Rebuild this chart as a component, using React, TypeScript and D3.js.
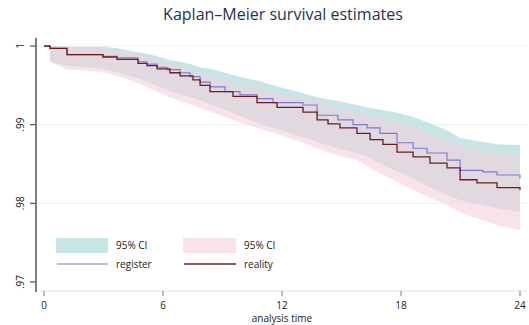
import * as d3 from 'd3';
import React from 'react';

// Kaplan-Meier estimates (time in months)
const regTimes = [0, 0.3, 1.16, 2.97, 3.68, 4.74, 5.19, 5.7, 6.2, 6.86, 7.36, 7.87, 8.37, 9.13, 9.88, 10.74, 11.55, 13.06, 13.77, 14.82, 15.58, 16.29, 16.94, 17.8, 18.61, 19.31, 20.32, 20.98, 22.13, 22.84, 24];
const regSurv = [1, .9997, .9989, .9987, .9985, .998, .9977, .9973, .997, .9966, .9961, .9954, .9948, .9942, .9938, .9933, .9928, .9925, .9912, .9906, .99, .9896, .9889, .9877, .987, .9864, .9855, .9842, .984, .9836, .9832];
const regUpper = [1, 1, .9999, .9999, .9997, .9992, .999, .9987, .9983, .998, .9977, .9973, .9971, .9966, .9961, .9956, .995, .994, .9935, .993, .9926, .9922, .9919, .9915, .991, .9903, .9893, .9883, .9878, .9875, .9874];
const regLower = [1, .998, .9975, .9971, .9967, .9959, .9954, .9949, .9944, .9939, .9935, .9931, .9926, .9919, .9911, .9902, .9896, .9884, .9878, .987, .9865, .986, .9851, .984, .9832, .9822, .9811, .9804, .9798, .9794, .9789];

const realTimes = [0, 0.3, 1.16, 2.97, 3.68, 4.74, 5.19, 5.7, 6.35, 6.86, 7.51, 7.87, 8.37, 9.53, 10.74, 11.75, 13.06, 13.77, 14.32, 14.92, 15.78, 16.44, 17.09, 17.8, 18.61, 19.46, 20.32, 20.98, 21.83, 22.84, 24];
const realSurv = [1, .9997, .9989, .9986, .9983, .9978, .9975, .9971, .9966, .9962, .9957, .995, .9942, .9936, .9928, .9922, .9916, .9906, .9901, .9896, .9889, .9881, .9875, .9865, .9859, .9851, .9845, .983, .9826, .982, .9817];
const realUpper = [1, 1, .9999, .9997, .9995, .999, .9986, .9982, .9977, .9973, .9968, .9966, .9962, .9954, .9947, .994, .9934, .9929, .9925, .9921, .9917, .9912, .9908, .9905, .99, .9888, .9881, .9874, .987, .9865, .9861];
const realLower = [1, .998, .997, .9967, .9962, .9953, .9948, .9942, .9935, .993, .9925, .9921, .9917, .9906, .9896, .9888, .9877, .987, .9865, .986, .9855, .9845, .9836, .9827, .9817, .9807, .9798, .9789, .9781, .9772, .9766];

const xTicks = [0, 6, 12, 18, 24];
const yTicks = [1, 0.99, 0.98, 0.97];
const yTickLabels = ['1', '.99', '.98', '.97'];
const gridTicks = [1, 0.99, 0.98];

const W = 529;
const H = 325;
const font = '"Open Sans", "Liberation Sans", sans-serif';
const tealFill = 'rgb(141,205,205)';
const pinkFill = 'rgb(243,208,220)';

export default function App() {
  const x = d3.scaleLinear().domain([0, 24]).range([44, 520]);
  const y = d3.scaleLinear().domain([0.97, 1]).range([282, 46]);

  const bandPath = (times: number[], lo: number[], hi: number[]) => {
    // skip t=0, the band starts at the first failure
    const t = times.slice(1);
    const l = lo.slice(1);
    const h = hi.slice(1);
    return d3.area<number>()
      .curve(d3.curveLinear)
      .x((d) => x(d))
      .y0((_, i) => y(l[i]))
      .y1((_, i) => y(h[i]))(t) as string;
  };

  const linePath = (times: number[], s: number[]) =>
    d3.line<number>()
      .curve(d3.curveStepAfter)
      .x((d) => x(d))
      .y((_, i) => y(s[i]))(times) as string;

  return (
    <svg width={W} height={H} style={{ position: 'absolute', left: 0, top: 0, background: '#fff' }}>
      {/* title */}
      <text x={283} y={20} textAnchor="middle" fontFamily={font} fontSize={16} fill="#1e3552">
        Kaplan–Meier survival estimates
      </text>

      {/* grid */}
      {gridTicks.map((t) => (
        <line key={t} x1={37} x2={527} y1={y(t)} y2={y(t)} stroke="#e8f1f2" strokeWidth={1} />
      ))}

      {/* confidence bands */}
      <path d={bandPath(regTimes, regLower, regUpper)} fill={tealFill} fillOpacity={0.5} />
      <path d={bandPath(realTimes, realLower, realUpper)} fill={pinkFill} fillOpacity={0.6} />

      {/* survival curves */}
      <path d={linePath(regTimes, regSurv)} fill="none" stroke="#7a7ad8" strokeWidth={1.2} />
      <path d={linePath(realTimes, realSurv)} fill="none" stroke="#6e1c1c" strokeWidth={1.3} />

      {/* y axis */}
      <line x1={36} x2={36} y1={38} y2={292} stroke="#555" strokeWidth={1.5} />
      {yTicks.map((t, i) => (
        <g key={t}>
          <line x1={30} x2={36} y1={y(t)} y2={y(t)} stroke="#555" strokeWidth={1.2} />
          <text
            transform={`translate(24,${y(t)}) rotate(-90)`}
            textAnchor="middle"
            fontFamily={font}
            fontSize={10}
            fill="#222"
          >
            {yTickLabels[i]}
          </text>
        </g>
      ))}

      {/* x axis */}
      <line x1={40} x2={527} y1={291} y2={291} stroke="#dde2e4" strokeWidth={1} />
      {xTicks.map((t) => (
        <g key={t}>
          <line x1={x(t)} x2={x(t)} y1={291} y2={296} stroke="#777" strokeWidth={1} />
          <text x={x(t)} y={309} textAnchor="middle" fontFamily={font} fontSize={10} fill="#222">
            {t}
          </text>
        </g>
      ))}
      <text x={282} y={322} textAnchor="middle" fontFamily={font} fontSize={10} fill="#222">
        analysis time
      </text>

      {/* legend */}
      <rect x={56} y={238} width={52} height={15} fill={tealFill} fillOpacity={0.5} />
      <text x={116} y={249} fontFamily={font} fontSize={10} fill="#222">95% CI</text>
      <rect x={183} y={238} width={53} height={15} fill={pinkFill} fillOpacity={0.6} />
      <text x={244} y={249} fontFamily={font} fontSize={10} fill="#222">95% CI</text>
      <line x1={57} x2={108} y1={264} y2={264} stroke="#7a7ad8" strokeWidth={1.2} />
      <text x={116} y={268} fontFamily={font} fontSize={10} fill="#222">register</text>
      <line x1={184} x2={236} y1={264} y2={264} stroke="#6e1c1c" strokeWidth={1.3} />
      <text x={244} y={268} fontFamily={font} fontSize={10} fill="#222">reality</text>
    </svg>
  );
}
